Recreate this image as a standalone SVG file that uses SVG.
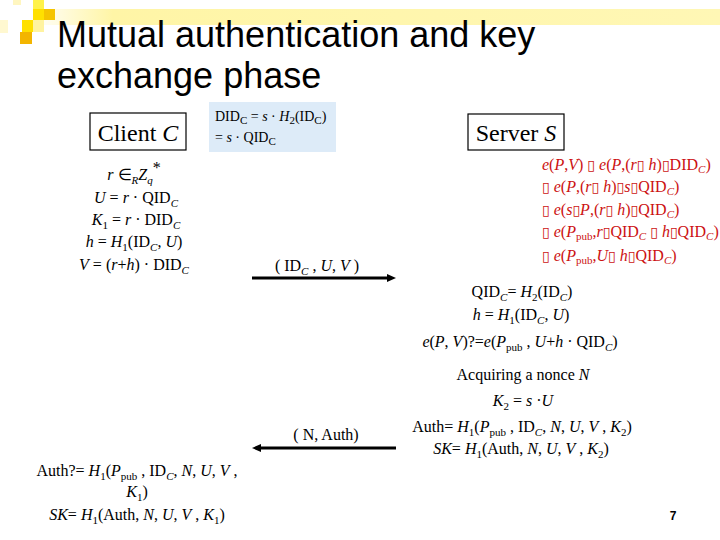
<svg xmlns="http://www.w3.org/2000/svg" width="720" height="540" viewBox="0 0 720 540">
<style>
.t{font-family:"Liberation Serif","Times New Roman",serif;font-size:16px;fill:#000}
.m{text-anchor:middle}
.i{font-style:italic}
.s{font-size:11px}
.r{fill:#CC1111;font-size:16px}
.box{fill:#fff;stroke:#000;stroke-width:1.2}
.title{font-family:"Liberation Sans",Arial,sans-serif;font-size:36px;fill:#000}
.conn{stroke:#000;stroke-width:3;fill:none}
.tofu{font-family:"DejaVu Sans",sans-serif;font-size:14px;font-style:normal}
</style>
<defs>
<linearGradient id="band" x1="0" y1="0" x2="1" y2="0">
<stop offset="0" stop-color="#fff"/>
<stop offset="0.12" stop-color="#FFF5A6"/>
<stop offset="1" stop-color="#FFF7B5"/>
</linearGradient>
<marker id="ah" markerUnits="userSpaceOnUse" markerWidth="10" markerHeight="8" refX="0" refY="4" orient="auto">
<path d="M0,0 L9,4 L0,8 z" fill="#000"/>
</marker>
</defs>
<rect width="720" height="540" fill="#fff"/>
<g id="title">
<rect x="30" y="9" width="690" height="16" fill="url(#band)"/>
<rect x="13" y="0" width="8" height="5" fill="#FFF6C0"/>
<rect x="0" y="20" width="8" height="13" fill="#FFF8D0"/>
<rect x="33" y="0" width="11" height="9" fill="#FFF24A"/>
<rect x="33" y="9" width="11" height="11" fill="#FFE000"/>
<rect x="44" y="9" width="11" height="11" fill="#F5C400"/>
<rect x="22" y="20" width="11" height="12" fill="#FFE000"/>
<rect x="33" y="20" width="11" height="12" fill="#FFF3A0"/>
<rect x="20" y="32" width="12" height="12" fill="#F3B500"/>
<text class="title" x="57" y="47">Mutual authentication and key</text>
<text class="title" x="57" y="88">exchange phase</text>
</g>
<g id="client">
<rect class="box" x="90" y="113" width="96" height="37"/>
<text class="t m" x="138" y="141" style="font-size:24px">Client <tspan class="i">C</tspan></text>
</g>
<g id="server">
<rect class="box" x="468" y="114" width="96" height="36"/>
<text class="t m" x="516" y="141" style="font-size:24px">Server <tspan class="i">S</tspan></text>
</g>
<g id="registration">
<rect x="209" y="102" width="127" height="50" fill="#DDEBF8"/>
<text class="t" x="215" y="121" style="font-size:14px">DID<tspan class="s" dy="3">C</tspan><tspan dy="-3"> = </tspan><tspan class="i">s</tspan> · <tspan class="i">H</tspan><tspan class="s" dy="3">2</tspan><tspan dy="-3">(ID</tspan><tspan class="s" dy="3">C</tspan><tspan dy="-3">)</tspan></text>
<text class="t" x="215" y="142" style="font-size:14px">= <tspan class="i">s</tspan> · QID<tspan class="s" dy="3">C</tspan></text>
</g>
<g id="client-compute">
<text class="t m" x="134" y="180"><tspan class="i">r</tspan> ∈<tspan class="s i" dy="4">R</tspan><tspan class="i" dy="-4">Z</tspan><tspan class="s i" dy="4">q</tspan><tspan dy="-11">*</tspan></text>
<text class="t m" x="136" y="203"><tspan class="i">U</tspan> = <tspan class="i">r</tspan> · QID<tspan class="s i" dy="4">C</tspan></text>
<text class="t m" x="136" y="225"><tspan class="i">K</tspan><tspan class="s" dy="4">1</tspan><tspan dy="-4"> = </tspan><tspan class="i">r</tspan> · DID<tspan class="s i" dy="4">C</tspan></text>
<text class="t m" x="134" y="247"><tspan class="i">h</tspan> = <tspan class="i">H</tspan><tspan class="s" dy="4">1</tspan><tspan dy="-4">(ID</tspan><tspan class="s i" dy="4">C</tspan><tspan dy="-4">, </tspan><tspan class="i">U</tspan>)</text>
<text class="t m" x="134" y="270"><tspan class="i">V</tspan> = (<tspan class="i">r</tspan>+<tspan class="i">h</tspan>) · DID<tspan class="s i" dy="4">C</tspan></text>
</g>
<g id="server-verify-red">
<text class="t r" x="542" y="170"><tspan class="i">e</tspan>(<tspan class="i">P</tspan>,<tspan class="i">V</tspan>) <tspan class="tofu">▯</tspan> <tspan class="i">e</tspan>(<tspan class="i">P</tspan>,(<tspan class="i">r</tspan><tspan class="tofu">▯</tspan> <tspan class="i">h</tspan>)<tspan class="tofu">▯</tspan>DID<tspan class="s i" dy="3">C</tspan><tspan dy="-3">)</tspan></text>
<text class="t r" x="542" y="192"><tspan class="tofu">▯</tspan> <tspan class="i">e</tspan>(<tspan class="i">P</tspan>,(<tspan class="i">r</tspan><tspan class="tofu">▯</tspan> <tspan class="i">h</tspan>)<tspan class="tofu">▯</tspan><tspan class="i">s</tspan><tspan class="tofu">▯</tspan>QID<tspan class="s i" dy="3">C</tspan><tspan dy="-3">)</tspan></text>
<text class="t r" x="542" y="215"><tspan class="tofu">▯</tspan> <tspan class="i">e</tspan>(<tspan class="i">s</tspan><tspan class="tofu">▯</tspan><tspan class="i">P</tspan>,(<tspan class="i">r</tspan><tspan class="tofu">▯</tspan> <tspan class="i">h</tspan>)<tspan class="tofu">▯</tspan>QID<tspan class="s i" dy="3">C</tspan><tspan dy="-3">)</tspan></text>
<text class="t r" x="542" y="237"><tspan class="tofu">▯</tspan> <tspan class="i">e</tspan>(<tspan class="i">P</tspan><tspan class="s" dy="3">pub</tspan><tspan dy="-3">,</tspan><tspan class="i">r</tspan><tspan class="tofu">▯</tspan>QID<tspan class="s i" dy="3">C</tspan><tspan dy="-3"> </tspan><tspan class="tofu">▯</tspan> <tspan class="i">h</tspan><tspan class="tofu">▯</tspan>QID<tspan class="s i" dy="3">C</tspan><tspan dy="-3">)</tspan></text>
<text class="t r" x="542" y="261"><tspan class="tofu">▯</tspan> <tspan class="i">e</tspan>(<tspan class="i">P</tspan><tspan class="s" dy="3">pub</tspan><tspan dy="-3">,</tspan><tspan class="i">U</tspan><tspan class="tofu">▯</tspan> <tspan class="i">h</tspan><tspan class="tofu">▯</tspan>QID<tspan class="s i" dy="3">C</tspan><tspan dy="-3">)</tspan></text>
</g>
<g id="server-compute">
<text class="t m" x="522" y="297">QID<tspan class="s i" dy="4">C</tspan><tspan dy="-4">= </tspan><tspan class="i">H</tspan><tspan class="s" dy="4">2</tspan><tspan dy="-4">(ID</tspan><tspan class="s i" dy="4">C</tspan><tspan dy="-4">)</tspan></text>
<text class="t m" x="521" y="320"><tspan class="i">h</tspan> = <tspan class="i">H</tspan><tspan class="s" dy="4">1</tspan><tspan dy="-4">(ID</tspan><tspan class="s i" dy="4">C</tspan><tspan dy="-4">, </tspan><tspan class="i">U</tspan>)</text>
<text class="t m" x="520" y="347"><tspan class="i">e</tspan>(<tspan class="i">P</tspan>, <tspan class="i">V</tspan>)?=<tspan class="i">e</tspan>(<tspan class="i">P</tspan><tspan class="s" dy="4">pub</tspan><tspan dy="-4"> , </tspan><tspan class="i">U</tspan>+<tspan class="i">h</tspan> · QID<tspan class="s i" dy="4">C</tspan><tspan dy="-4">)</tspan></text>
<text class="t m" x="523" y="380">Acquiring a nonce <tspan class="i">N</tspan></text>
<text class="t m" x="523" y="406"><tspan class="i">K</tspan><tspan class="s" dy="4">2</tspan><tspan dy="-4"> = </tspan><tspan class="i">s</tspan> ·<tspan class="i">U</tspan></text>
<text class="t m" x="522" y="432">Auth= <tspan class="i">H</tspan><tspan class="s" dy="4">1</tspan><tspan dy="-4">(</tspan><tspan class="i">P</tspan><tspan class="s" dy="4">pub</tspan><tspan dy="-4"> , ID</tspan><tspan class="s i" dy="4">C</tspan><tspan dy="-4">, </tspan><tspan class="i">N</tspan>, <tspan class="i">U</tspan>, <tspan class="i">V</tspan> , <tspan class="i">K</tspan><tspan class="s" dy="4">2</tspan><tspan dy="-4">)</tspan></text>
<text class="t m" x="521" y="454"><tspan class="i">SK</tspan>= <tspan class="i">H</tspan><tspan class="s" dy="4">1</tspan><tspan dy="-4">(Auth, </tspan><tspan class="i">N</tspan>, <tspan class="i">U</tspan>, <tspan class="i">V</tspan> , <tspan class="i">K</tspan><tspan class="s" dy="4">2</tspan><tspan dy="-4">)</tspan></text>
</g>
<g id="client-verify">
<text class="t m" x="137" y="476">Auth?= <tspan class="i">H</tspan><tspan class="s" dy="4">1</tspan><tspan dy="-4">(</tspan><tspan class="i">P</tspan><tspan class="s" dy="4">pub</tspan><tspan dy="-4"> , ID</tspan><tspan class="s i" dy="4">C</tspan><tspan dy="-4">, </tspan><tspan class="i">N</tspan>, <tspan class="i">U</tspan>, <tspan class="i">V</tspan> ,</text>
<text class="t m" x="137" y="497"><tspan class="i">K</tspan><tspan class="s" dy="4">1</tspan><tspan dy="-4">)</tspan></text>
<text class="t m" x="137" y="520"><tspan class="i">SK</tspan>= <tspan class="i">H</tspan><tspan class="s" dy="4">1</tspan><tspan dy="-4">(Auth, </tspan><tspan class="i">N</tspan>, <tspan class="i">U</tspan>, <tspan class="i">V</tspan> , <tspan class="i">K</tspan><tspan class="s" dy="4">1</tspan><tspan dy="-4">)</tspan></text>
</g>
<g id="connectors">
<line class="conn" x1="252" y1="278" x2="387" y2="278" marker-end="url(#ah)"/>
<text class="t m" x="317" y="271">( ID<tspan class="s i" dy="4">C</tspan><tspan dy="-4"> , </tspan><tspan class="i">U</tspan>, <tspan class="i">V</tspan> )</text>
<line class="conn" x1="396" y1="448" x2="261" y2="448" marker-end="url(#ah)"/>
<text class="t m" x="326" y="440">( N, Auth)</text>
</g>
<text x="673" y="520" text-anchor="middle" style="font-family:'Liberation Sans',Arial,sans-serif;font-size:12px;font-weight:bold">7</text>
</svg>
